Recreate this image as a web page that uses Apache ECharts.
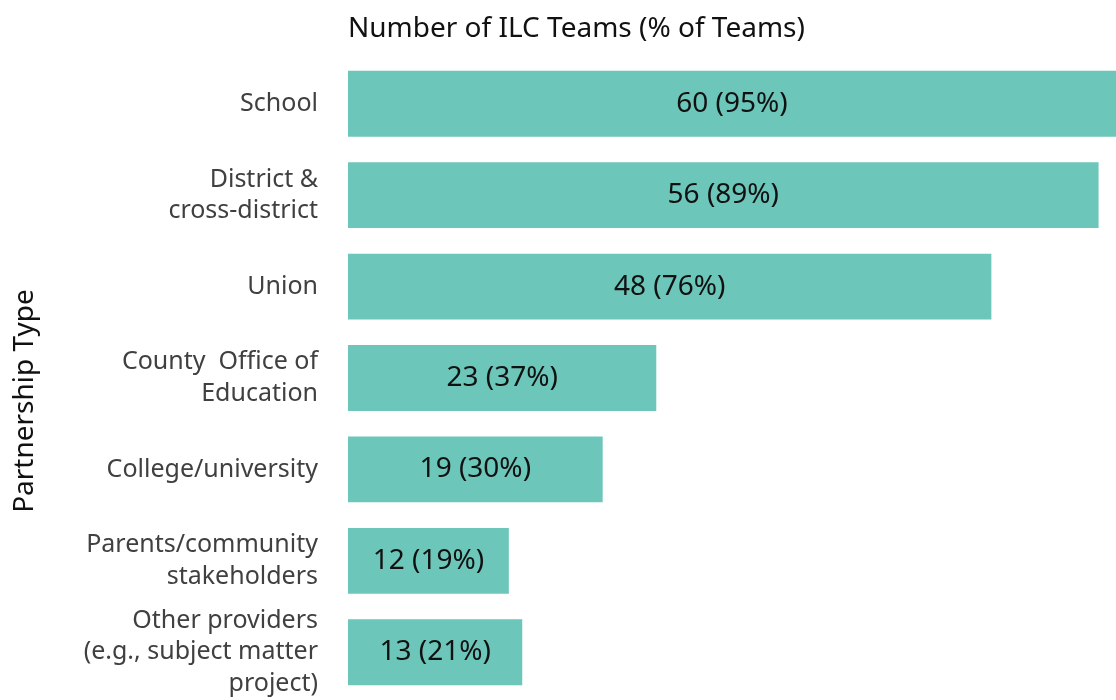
<!DOCTYPE html>
<html>
<head>
<meta charset="utf-8">
<script src="https://cdn.jsdelivr.net/npm/echarts@6/dist/echarts.min.js"></script>
<style>
  html, body { margin: 0; padding: 0; background: #fff; }
  #chart { width: 1116px; height: 700px; }
</style>
</head>
<body>
<div id="chart"></div>
<script>
// partnership types, top to bottom
const categories = [
  'School',
  'District &\ncross-district',
  'Union',
  'County  Office of\nEducation',
  'College/university',
  'Parents/community\nstakeholders',
  'Other providers\n(e.g., subject matter\nproject)'
]
const teamCounts = [60, 56, 48, 23, 19, 12, 13]
const teamPercents = [95, 89, 76, 37, 30, 19, 21]

const fontFamily = '"Noto Sans", sans-serif'

const chart = echarts.init(document.getElementById('chart'))

chart.setOption({
  animation: false,
  textStyle: { fontFamily },
  title: {
    text: 'Number of ILC Teams (% of Teams)',
    left: 343,
    top: 10,
    textStyle: { fontSize: 28, fontWeight: 'normal', color: '#111', fontFamily }
  },
  grid: { left: 348, right: 0, top: 58, bottom: 2 },
  // the top bar runs past the edge of the plot, as in the original
  xAxis: {
    type: 'value',
    min: 0,
    max: 57.3,
    show: false
  },
  yAxis: {
    type: 'category',
    data: categories,
    inverse: true,
    axisLine: { show: false },
    axisTick: { show: false },
    axisLabel: {
      margin: 30,
      fontSize: 25,
      lineHeight: 31.5,
      color: '#404040',
      align: 'right',
      fontFamily
    }
  },
  graphic: [
    {
      type: 'text',
      x: 25,
      y: 401,
      rotation: Math.PI / 2,
      style: {
        text: 'Partnership Type',
        fontSize: 28,
        fontFamily,
        fill: '#111',
        align: 'center',
        verticalAlign: 'middle'
      }
    }
  ],
  series: [
    {
      type: 'bar',
      data: teamCounts,
      clip: true,
      barCategoryGap: '28%',
      itemStyle: { color: '#6cc6b9' },
      label: {
        show: true,
        position: 'inside',
        color: '#111',
        fontSize: 28,
        fontFamily,
        formatter: (p) => `${teamCounts[p.dataIndex]} (${teamPercents[p.dataIndex]}%)`
      }
    }
  ]
})
</script>
</body>
</html>
